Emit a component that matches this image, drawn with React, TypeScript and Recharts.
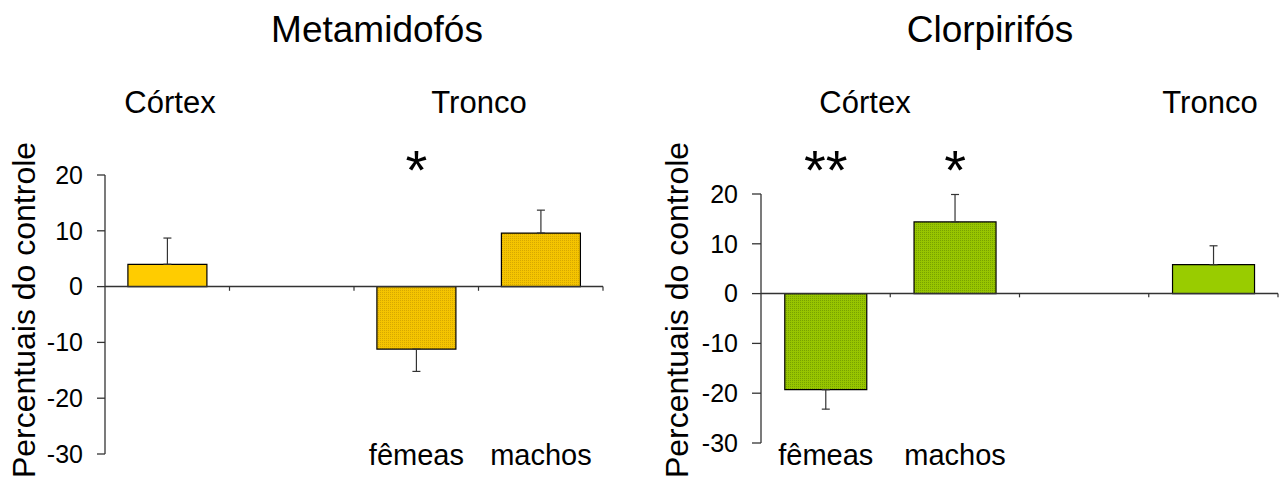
import React from 'react';
import {
  BarChart,
  Bar,
  XAxis,
  YAxis,
  ReferenceLine,
  ErrorBar,
  Cell,
  LabelList,
} from 'recharts';

// Metamidofós: Córtex | (vazio) | Tronco fêmeas | Tronco machos
const metaLabels = ['', '', 'fêmeas', 'machos'];
const metaValues = [4.0, null, -11.2, 9.6];
const metaErrors = [4.7, null, 4.0, 4.1];
const metaSig = ['', '', '*', ''];

// Clorpirifós: Córtex fêmeas | Córtex machos | (vazio) | Tronco
const cloLabels = ['fêmeas', 'machos', '', ''];
const cloValues = [-19.3, 14.4, null, 5.8];
const cloErrors = [3.9, 5.5, null, 3.8];
const cloSig = ['**', '*', '', ''];

const yTicks = [-30, -20, -10, 0, 10, 20];

const FONT = '"Liberation Sans", Arial, sans-serif';

// cores
const metaFill = ['#FFCC00', 'none', 'url(#dotYellow)', 'url(#dotYellow)'];
const cloFill = ['url(#dotGreen)', 'url(#dotGreen)', 'none', '#99CC00'];

function buildRows(labels: string[], values: (number | null)[], errors: (number | null)[], sig: string[]) {
  return labels.map((label, i) => {
    const v = values[i];
    const e = errors[i];
    let err: number[] | null = null;
    if (v != null && e != null) err = v >= 0 ? [0, e] : [e, 0];
    return { idx: i, label, value: v, err, sig: sig[i] };
  });
}

const metaRows = buildRows(metaLabels, metaValues, metaErrors, metaSig);
const cloRows = buildRows(cloLabels, cloValues, cloErrors, cloSig);

// texto centrado na barra, numa linha de base fixa
function FixedText(baseline: number, fontSize: number) {
  return (props: any) => {
    const { x, width, value } = props;
    if (!value) return null;
    return (
      <text x={x + width / 2} y={baseline} textAnchor="middle" fontSize={fontSize} fontFamily={FONT} fill="#000">
        {value}
      </text>
    );
  };
}

interface PanelProps {
  rows: any[];
  fills: string[];
  width: number;
  margin: { top: number; right: number; bottom: number; left: number };
  yWidth: number;
  tickSize: number;
}

function Panel({ rows, fills, width, margin, yWidth, tickSize }: PanelProps) {
  const last = rows.length - 1;
  return (
    <BarChart width={width} height={479} data={rows} margin={margin} barCategoryGap="18.4%">
      <defs>
        <pattern id="dotYellow" width="2" height="2" patternUnits="userSpaceOnUse">
          <rect width="2" height="2" fill="#F4C400" />
          <rect width="1" height="1" fill="#D6A800" />
        </pattern>
        <pattern id="dotGreen" width="2" height="2" patternUnits="userSpaceOnUse">
          <rect width="2" height="2" fill="#97C500" />
          <rect width="1" height="1" fill="#78A200" />
        </pattern>
      </defs>
      <XAxis xAxisId="cat" dataKey="idx" hide />
      <YAxis
        domain={[-30, 20]}
        ticks={yTicks}
        width={yWidth}
        interval={0}
        tickSize={tickSize}
        tickMargin={14}
        axisLine={{ stroke: '#333', strokeWidth: 1.3 }}
        tickLine={{ stroke: '#333', strokeWidth: 1.3 }}
        tick={{ fill: '#000', fontSize: 25, fontFamily: FONT }}
      />
      <Bar
        xAxisId="cat"
        dataKey="value"
        stroke="#000"
        strokeWidth={1.2}
        isAnimationActive={false}
      >
        {rows.map((r, i) => (
          <Cell key={i} fill={fills[i]} />
        ))}
        <ErrorBar dataKey="err" width={4} stroke="#333" strokeWidth={1.2} direction="y" />
        <LabelList dataKey="sig" content={FixedText(189, 56)} />
        <LabelList dataKey="label" content={FixedText(465, 29)} />
      </Bar>
      <ReferenceLine xAxisId="cat" y={0} stroke="#333" strokeWidth={1.5} />
      {/* pequenos traços nos limites das categorias, abaixo da linha do zero */}
      {rows.slice(1).map((r) => (
        <ReferenceLine
          key={r.idx}
          xAxisId="cat"
          segment={[{ x: r.idx, y: 0 }, { x: r.idx, y: -0.75 }]}
          position="start"
          stroke="#333"
          strokeWidth={1.2}
          ifOverflow="visible"
        />
      ))}
      <ReferenceLine
        xAxisId="cat"
        segment={[{ x: last, y: 0 }, { x: last, y: -0.75 }]}
        position="end"
        stroke="#333"
        strokeWidth={1.2}
        ifOverflow="visible"
      />
    </BarChart>
  );
}

export default function App() {
  const textStyle = { fontFamily: FONT, fill: '#000' } as const;
  return (
    <div style={{ position: 'absolute', left: 0, top: 0, width: 1283, height: 479, background: '#fff' }}>
      <div style={{ position: 'absolute', left: 0, top: 0 }}>
        <Panel
          rows={metaRows}
          fills={metaFill}
          width={640}
          margin={{ top: 175, right: 37, bottom: 25, left: 0 }}
          yWidth={105}
          tickSize={8}
        />
      </div>
      <div style={{ position: 'absolute', left: 640, top: 0 }}>
        <Panel
          rows={cloRows}
          fills={cloFill}
          width={643}
          margin={{ top: 194, right: 5, bottom: 36, left: 0 }}
          yWidth={121}
          tickSize={9}
        />
      </div>
      <svg
        width={1283}
        height={479}
        style={{ position: 'absolute', left: 0, top: 0, pointerEvents: 'none' }}
      >
        <text x={377} y={42} textAnchor="middle" fontSize={37} {...textStyle}>Metamidofós</text>
        <text x={990} y={42} textAnchor="middle" fontSize={37} {...textStyle}>Clorpirifós</text>
        <text x={170} y={113} textAnchor="middle" fontSize={31} {...textStyle}>Córtex</text>
        <text x={479} y={113} textAnchor="middle" fontSize={31} {...textStyle}>Tronco</text>
        <text x={865} y={113} textAnchor="middle" fontSize={31} {...textStyle}>Córtex</text>
        <text x={1210} y={113} textAnchor="middle" fontSize={31} {...textStyle}>Tronco</text>
        <text x={35} y={310} textAnchor="middle" fontSize={32} transform="rotate(-90 35 310)" {...textStyle}>
          Percentuais do controle
        </text>
        <text x={688} y={310} textAnchor="middle" fontSize={32} transform="rotate(-90 688 310)" {...textStyle}>
          Percentuais do controle
        </text>
      </svg>
    </div>
  );
}
